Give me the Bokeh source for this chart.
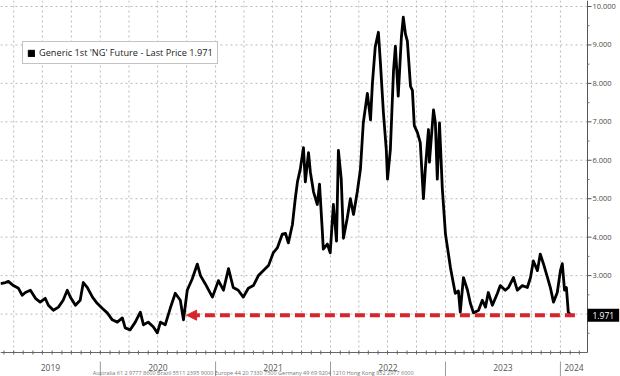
import math
import pandas as pd
from bokeh.plotting import figure
from bokeh.models import (Label, Arrow, NormalHead, Legend, LegendItem, Range1d, ColumnDataSource)
from bokeh.core.properties import value
from bokeh.embed import file_html
from bokeh.resources import INLINE

# ---------------- data ----------------
dates = [
    "2019-02-18","2019-03-06","2019-03-15","2019-03-31","2019-04-16","2019-04-28","2019-05-08","2019-05-24",
    "2019-06-09","2019-06-24","2019-07-10","2019-07-20","2019-08-05","2019-08-21","2019-09-05","2019-09-18",
    "2019-09-28","2019-10-14","2019-10-29","2019-11-08","2019-11-21","2019-12-07","2019-12-22",
    "2020-01-07","2020-01-23","2020-02-08","2020-02-24","2020-03-11","2020-03-20","2020-04-05","2020-04-21",
    "2020-05-07","2020-05-17","2020-06-01","2020-06-17","2020-06-30","2020-07-10","2020-07-25","2020-08-10",
    "2020-08-26","2020-09-11","2020-09-21","2020-10-03","2020-10-19","2020-11-04","2020-11-14","2020-11-29",
    "2020-12-22",
    "2021-01-10","2021-01-26","2021-02-11","2021-02-26","2021-03-14","2021-03-30","2021-04-15","2021-05-01",
    "2021-05-17","2021-06-02","2021-06-18","2021-07-03","2021-07-16","2021-08-01","2021-08-11","2021-08-20",
    "2021-09-02","2021-09-11","2021-09-18","2021-09-27","2021-10-07","2021-10-13","2021-10-23","2021-10-29",
    "2021-11-08","2021-11-20","2021-11-27","2021-12-06","2021-12-09","2021-12-22","2021-12-31",
    "2022-01-10","2022-01-20","2022-01-26","2022-02-04","2022-02-11","2022-02-23","2022-03-05","2022-03-15",
    "2022-03-27","2022-04-06","2022-04-15","2022-04-28","2022-05-08","2022-05-14","2022-05-23","2022-06-02",
    "2022-06-08","2022-06-18","2022-06-27","2022-07-01","2022-07-10","2022-07-20","2022-07-26","2022-08-04",
    "2022-08-14","2022-08-20","2022-08-27","2022-09-02","2022-09-12","2022-09-18","2022-09-24","2022-10-04",
    "2022-10-13","2022-10-23","2022-10-29","2022-11-08","2022-11-11","2022-11-24","2022-11-30","2022-12-06",
    "2022-12-13","2022-12-22",
    "2023-01-01","2023-01-17","2023-02-01","2023-02-11","2023-02-17","2023-02-27","2023-03-12","2023-03-21",
    "2023-03-31","2023-04-16","2023-04-28","2023-05-08","2023-05-17","2023-05-30","2023-06-15","2023-06-24",
    "2023-07-10","2023-07-20","2023-08-05","2023-08-17","2023-09-02","2023-09-18","2023-09-28","2023-10-07",
    "2023-10-20","2023-10-29","2023-11-08","2023-11-21","2023-11-30","2023-12-10","2023-12-22",
    "2024-01-01","2024-01-07","2024-01-14","2024-01-20","2024-01-26","2024-02-02",
]
prices = [
    2.79,2.82,2.85,2.74,2.67,2.49,2.56,2.62,2.41,2.31,2.41,2.23,2.10,2.18,2.36,2.62,2.44,2.23,2.36,2.82,2.69,2.44,2.28,
    2.15,2.03,1.85,1.79,1.90,1.64,1.59,1.79,2.05,1.72,1.79,1.67,1.51,1.79,1.72,2.15,2.54,2.36,1.85,2.62,2.92,3.30,
    3.00,2.79,2.44,
    2.87,2.62,3.18,2.69,2.62,2.44,2.67,2.74,3.00,3.13,3.26,3.59,3.72,4.08,4.10,3.85,4.33,5.00,5.44,5.77,6.33,5.44,
    6.20,5.69,5.18,4.85,5.38,4.15,3.69,3.82,3.59,
    4.85,3.90,6.26,5.51,3.97,4.49,5.00,4.59,5.18,5.77,6.97,7.74,7.05,8.00,8.95,9.33,8.59,7.23,6.28,5.51,6.28,8.33,
    8.97,7.67,9.20,9.72,9.28,9.10,7.92,7.82,6.90,6.72,6.46,5.00,5.77,6.80,5.95,7.31,6.97,5.51,6.97,5.26,
    4.08,3.20,2.54,2.60,2.05,2.95,2.62,2.28,2.03,2.10,2.36,2.18,2.56,2.23,2.54,2.74,2.62,2.69,2.95,2.62,2.74,2.69,
    2.95,3.38,3.13,3.56,3.31,2.95,2.69,2.31,2.56,
    3.13,3.31,2.62,2.69,2.05,1.971,
]
series_label = "Generic 1st 'NG' Future - Last Price"
last_price = prices[-1]
arrow_target_date = "2020-10-01"   # arrow points back to the autumn-2020 level
x_start, x_axis_date = "2019-02-18", "2024-03-27"
y_ticks = [3, 4, 5, 6, 7, 8, 9, 10]
y_tick_labels = ["3.000", "4.000", "5.000", "6.000", "7.000", "8.000", "9.000", "10.000"]
y_minor = [1.5, 2, 2.5, 3.5, 4.5, 5.5, 6.5, 7.5, 8.5, 9.5]
y_grid = [2, 3, 4, 5, 6, 7, 8, 9, 10]
y_min_value = 1.0
years = [2019, 2020, 2021, 2022, 2023, 2024]
footer = ("Australia 61 2 9777 8600 Brazil 5511 2395 9000 Europe 44 20 7330 7500 "
          "Germany 49 69 9204 1210 Hong Kong 852 2977 6000")
footer_date = "2019-12-08"

# ---------------- layout (pixels) ----------------
W, H = 620, 376
AXIS_X_PX = 587      # where the price axis sits, from the left
TOP_PX = 6           # where 10.000 sits, from the top
BOTTOM_PX = 352      # where the time axis sits, from the top
FONT = "Open Sans"
RED = "#d6262c"
GRID = "#b9b9b9"
AXIS = "#666666"

def ms(d):
    return pd.Timestamp(d).value / 1e6

xs, xa = ms(x_start), ms(x_axis_date)
mpp = (xa - xs) / AXIS_X_PX
upp = (max(y_ticks) - y_min_value) / (BOTTOM_PX - TOP_PX)
x_range = Range1d(xs, xs + W * mpp)
y_range = Range1d(y_min_value - (H - BOTTOM_PX) * upp, max(y_ticks) + TOP_PX * upp)
y_top = y_range.end

src = ColumnDataSource(dict(date=[ms(d) for d in dates], price=prices))

x0, x1 = pd.Timestamp(x_start), pd.Timestamp(x_axis_date)
year_starts = [ms(f"{y}-01-01") for y in years if x0 < pd.Timestamp(f"{y}-01-01") < x1]
year_mids = []
for y in years:
    a = max(pd.Timestamp(f"{y}-01-01"), x0)
    b = min(pd.Timestamp(f"{y+1}-01-01"), x1)
    year_mids.append((ms(a) + ms(b)) / 2)
months = [ms(d) for d in pd.date_range(x0, x1, freq="MS")]
quarters = [ms(d) for d in pd.date_range(x0, x1, freq="QS")]

p = figure(width=W, height=H, x_range=x_range, y_range=y_range,
           x_axis_location=None, y_axis_location=None,
           output_backend="svg", toolbar_location=None,
           min_border_left=0, min_border_top=0, min_border_right=0, min_border_bottom=0)
p.outline_line_color = None
p.xgrid.visible = False
p.ygrid.visible = False

# dotted grid
p.segment(x0=quarters, x1=quarters, y0=y_min_value, y1=y_top,
          line_color=GRID, line_dash="2 3", line_width=1)
p.segment(x0=xs, x1=xa, y0=y_grid, y1=y_grid,
          line_color=GRID, line_dash="2 3", line_width=1)

# time axis: line, monthly ticks, year separators and labels
p.segment(x0=xs, x1=xa, y0=y_min_value, y1=y_min_value, line_color=AXIS, line_width=1)
p.ray(x=months, y=y_min_value, length=2, length_units="screen", angle=math.pi / 2,
      line_color=AXIS, line_width=1)
p.ray(x=months, y=y_min_value, length=2, length_units="screen", angle=-math.pi / 2,
      line_color=AXIS, line_width=1)
p.ray(x=year_starts, y=y_range.start, length=15, length_units="screen", angle=math.pi / 2,
      line_color="#9a9a9a", line_width=1)
p.text(x=year_mids, y=y_min_value, text=[str(y) for y in years], y_offset=15,
       text_align="center", text_baseline="middle", text_font=value(FONT),
       text_font_size="8.5px", text_color="#555555")
p.text(x=ms(footer_date), y=y_range.start, text=[footer], y_offset=0,
       text_align="left", text_baseline="bottom", text_font=value(FONT),
       text_font_size="5.5px", text_color="#777777")

# price axis on the right
p.segment(x0=xa, x1=xa, y0=y_min_value, y1=y_top, line_color="#555555", line_width=1)
p.ray(x=xa, y=y_ticks + [2], length=4, length_units="screen", angle=0,
      line_color="#555555", line_width=1)
p.ray(x=xa, y=y_minor, length=2, length_units="screen", angle=0,
      line_color="#777777", line_width=1)
p.text(x=xa, y=y_ticks, text=y_tick_labels, x_offset=5,
       text_align="left", text_baseline="middle", text_font=value(FONT),
       text_font_size="7.5px", text_color="#4a4a4a")

# price line
p.line("date", "price", source=src, line_color="black", line_width=2.8, line_join="round")
swatch = p.quad(left=[xs], right=[xs], top=[float("nan")], bottom=[float("nan")],
                fill_color="black", line_color="black")

# red dashed arrow along the last price
arrow = Arrow(end=NormalHead(size=10, fill_color=RED, line_color=RED, line_width=1),
              x_start=ms(dates[-1]) + 14 * 86400000, y_start=last_price,
              x_end=ms(arrow_target_date), y_end=last_price,
              line_color=RED, line_width=4, line_dash="10 5")
p.add_layout(arrow)

# last price tag on the axis
tag = Label(x=xa, y=last_price, x_offset=0, text=f"{last_price:.3f}",
            text_font=FONT, text_font_size="8.5px", text_color="white",
            text_baseline="middle", text_align="left",
            background_fill_color="black", padding=(5, 3))
p.add_layout(tag)

# legend
legend = Legend(items=[LegendItem(label=f"{series_label} {last_price:.3f}", renderers=[swatch])],
                location=(22, 312), label_text_font=FONT, label_text_font_size="9.2px",
                label_text_color="#222222", glyph_width=8, glyph_height=8, label_standoff=4,
                padding=4, spacing=0, margin=0, border_line_color="#888888", border_line_width=1,
                background_fill_color="white", background_fill_alpha=1)
p.add_layout(legend)

open("out.html", "w").write(file_html(p, INLINE))
